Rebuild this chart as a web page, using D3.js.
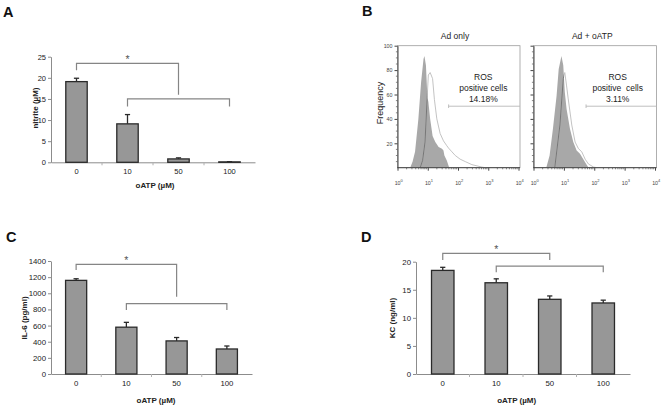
<!DOCTYPE html>
<html><head><meta charset="utf-8">
<script src="https://cdn.jsdelivr.net/npm/d3@7"></script>
<style>body{margin:0;background:#fff}svg{display:block}</style>
</head><body><svg id="c" width="661" height="408"></svg>
<script>
// ---------- DATA ----------
const categories = ["0", "10", "50", "100"];
const nitriteMean = [19.1, 9.1, 0.8, 0.1];
const nitriteErr  = [0.8, 2.2, 0.25, 0.05];
const il6Mean = [1160, 580, 410, 310];
const il6Err  = [20, 60, 42, 37];
const kcMean = [18.45, 16.25, 13.3, 12.65];
const kcErr  = [0.55, 0.7, 0.6, 0.5];
const nitriteTicks = [0, 5, 10, 15, 20, 25];
const il6Ticks = [0, 200, 400, 600, 800, 1000, 1200, 1400];
const kcTicks = [0, 5, 10, 15, 20];
const freqTicks = [20, 40, 60, 80, 100];
const decadeTicks = [0, 1, 2, 3, 4];
// flow histograms: log10(fluorescence) and frequency
const adOnlyFilledLog  = [0.42, 0.50, 0.58, 0.69, 0.78, 0.86, 0.89, 0.94, 0.99, 1.02, 1.08, 1.16, 1.25, 1.36, 1.47, 1.52, 1.55, 1.63, 1.71];
const adOnlyFilledFreq = [0, 5, 13, 40, 70, 89, 91.5, 84, 57, 54, 40, 26, 21, 17, 15.6, 14, 10, 6, 0];
const adOnlyOpenLog  = [0.75, 0.83, 0.91, 0.99, 1.02, 1.08, 1.16, 1.22, 1.30, 1.41, 1.52, 1.63, 1.69, 1.80, 1.91, 2.07, 2.24, 2.46, 2.79, 2.9];
const adOnlyOpenFreq = [0, 6, 21, 62, 76, 78, 73, 56, 40, 28, 22, 18, 16, 13, 10, 7, 5, 2.5, 0.5, 0];
const oatpFilledLog  = [0.42, 0.53, 0.64, 0.76, 0.83, 0.92, 0.98, 1.03, 1.09, 1.20, 1.31, 1.42, 1.53, 1.64, 1.76, 1.81];
const oatpFilledFreq = [0, 10, 32, 59, 81, 91.5, 84, 62, 48, 32, 21, 14, 11.5, 7, 2, 0];
const oatpOpenLog  = [0.70, 0.87, 0.98, 1.03, 1.09, 1.14, 1.26, 1.37, 1.48, 1.59, 1.70, 1.81, 1.98, 2.09];
const oatpOpenFreq = [0, 35, 73, 78, 67, 57, 35, 21, 15.6, 13, 7, 3, 0.5, 0];
const histTitles = ["Ad only", "Ad + oATP"];
const rosLines = [["ROS", "positive cells", "14.18%"], ["ROS", "positive  cells", "3.11%"]];

// ---------- DRAW ----------
const FONT = "'Liberation Sans', Arial, Helvetica, sans-serif";
const svg = d3.select("#c").attr("font-family", FONT);
const zip = (a, b) => a.map((v, i) => [v, b[i]]);

function letter(t, x, y) {
  svg.append("text").attr("x", x).attr("y", y).attr("font-size", 14.5)
    .attr("font-weight", "bold").attr("fill", "#111").text(t);
}

function barPanel(p, means, errs, ticks) {
  const g = svg.append("g");
  const x = d3.scaleBand().domain(categories).range([p.x0, p.x1])
    .paddingInner(0.58).paddingOuter(0.29);
  const y = d3.scaleLinear().domain([0, p.max]).range([p.yb, p.yt]);
  const cx = c => x(c) + x.bandwidth() / 2;

  const ya = g.append("g").attr("transform", `translate(${p.x0},0)`)
    .call(d3.axisLeft(y).tickValues(ticks).tickSize(3).tickSizeOuter(0).tickPadding(2).tickFormat(d3.format("d")));
  ya.attr("font-family", FONT).attr("font-size", p.fs);
  ya.select(".domain").attr("stroke", "#8c8c8c");
  ya.selectAll(".tick line").attr("stroke", "#8c8c8c");
  ya.selectAll(".tick text").attr("fill", "#222");

  const xa = g.append("g").attr("transform", `translate(0,${p.yb})`)
    .call(d3.axisBottom(x).tickSize(0).tickSizeOuter(0));
  xa.attr("font-family", FONT).attr("font-size", p.fs);
  xa.select(".domain").attr("stroke", "#8c8c8c");
  xa.selectAll(".tick text").attr("fill", "#222").attr("dy", null).attr("y", p.labelBase - p.yb);
  const step = x.step();
  g.selectAll("line.bt").data([1, 2, 3]).join("line")
    .attr("x1", i => p.x0 + i * step).attr("x2", i => p.x0 + i * step)
    .attr("y1", p.yb).attr("y2", p.yb + 3).attr("stroke", "#b0b0b0");

  const data = categories.map((c, i) => ({c, v: means[i], e: errs[i]}));
  g.selectAll("line.eb").data(data).join("line")
    .attr("x1", d => cx(d.c)).attr("x2", d => cx(d.c))
    .attr("y1", d => y(d.v)).attr("y2", d => y(d.v + d.e))
    .attr("stroke", "#2a2a2a").attr("stroke-width", 1.3);
  g.selectAll("line.cap").data(data).join("line")
    .attr("x1", d => cx(d.c) - 2.6).attr("x2", d => cx(d.c) + 2.6)
    .attr("y1", d => y(d.v + d.e)).attr("y2", d => y(d.v + d.e))
    .attr("stroke", "#2a2a2a").attr("stroke-width", 1.3);
  g.selectAll("rect").data(data).join("rect")
    .attr("x", d => x(d.c)).attr("width", x.bandwidth())
    .attr("y", d => y(d.v)).attr("height", d => p.yb - y(d.v))
    .attr("fill", "#979797").attr("stroke", "#2a2a2a").attr("stroke-width", 1.3);

  // significance brackets
  const b = p.br;
  const xa0 = cx(categories[0]), xa2 = cx(categories[2]);
  const xb1 = cx(categories[1]), xb3 = cx(categories[3]);
  g.append("path").attr("fill", "none").attr("stroke", "#858585").attr("stroke-width", 1.2)
    .attr("d", `M${xa0},${y(b.l1)}V${y(b.b1)}H${xa2}V${y(b.r1)}`);
  g.append("path").attr("fill", "none").attr("stroke", "#858585").attr("stroke-width", 1.2)
    .attr("d", `M${xb1},${y(b.l2)}V${y(b.b2)}H${xb3}V${y(b.l2)}`);
  g.append("text").attr("x", (xa0 + xa2) / 2).attr("y", y(b.b1) - 0.3)
    .attr("text-anchor", "middle").attr("font-size", 10.5).attr("fill", "#555").text("*");

  g.append("text").attr("x", p.xTitleX).attr("y", p.xTitleBase).attr("text-anchor", "middle")
    .attr("font-size", 8).attr("font-weight", "bold").attr("fill", "#222").text("oATP (\u00b5M)");
  g.append("text").attr("transform", `translate(${p.yTitleX},${p.yTitleY}) rotate(-90)`)
    .attr("text-anchor", "middle").attr("font-size", 8).attr("font-weight", "bold")
    .attr("fill", "#222").text(p.yTitle);
}

function histPanel(p, fLog, fFreq, oLog, oFreq, idx) {
  const g = svg.append("g");
  const x = d3.scaleLog().domain([1, 1e4]).range([p.x0, p.xr]);
  const y = d3.scaleLinear().domain([0, 100]).range([167.7, 45.7]);
  const X = d => x(Math.pow(10, d[0]));

  g.append("rect").attr("x", p.x0).attr("y", y(100)).attr("width", p.x1 - p.x0)
    .attr("height", y(0) - y(100)).attr("fill", "none").attr("stroke", "#9c9c9c").attr("stroke-width", 0.8);

  const filled = zip(fLog, fFreq), open = zip(oLog, oFreq);
  const area = d3.area().x(X).y0(y(0)).y1(d => y(d[1]));
  const line = d3.line().x(X).y(d => y(d[1]));
  const cid = "clip" + idx;
  g.append("clipPath").attr("id", cid).append("path").attr("d", area(filled));
  g.append("path").attr("d", area(filled)).attr("fill", "#a8a8a8");
  g.append("path").attr("d", line(open)).attr("fill", "none").attr("stroke", "#bcbcbc").attr("stroke-width", 0.9);
  g.append("path").attr("d", line(open)).attr("fill", "none").attr("stroke", "#6e6e6e")
    .attr("stroke-width", 0.9).attr("clip-path", `url(#${cid})`);

  // y axis
  const ya = g.append("g").attr("transform", `translate(${p.x0},0)`)
    .call(d3.axisLeft(y).tickValues(freqTicks).tickSize(3).tickSizeOuter(0).tickPadding(2)
      .tickFormat(p.labels ? d3.format("d") : ""));
  ya.attr("font-family", FONT).attr("font-size", 5.3);
  ya.select(".domain").attr("stroke", "#444");
  ya.selectAll(".tick line").attr("stroke", "#444");
  ya.selectAll(".tick text").attr("fill", "#444");
  const minorY = d3.range(5, 100, 5).filter(v => v % 20 !== 0);
  g.selectAll("line.my").data(minorY).join("line")
    .attr("x1", p.x0 - 1.6).attr("x2", p.x0).attr("y1", d => y(d)).attr("y2", d => y(d)).attr("stroke", "#555").attr("stroke-width", 0.7);

  // x axis
  const xa = g.append("g").attr("transform", `translate(0,${y(0)})`)
    .call(d3.axisBottom(x).tickValues(decadeTicks.map(d => Math.pow(10, d))).tickSize(3).tickSizeOuter(0).tickFormat(""));
  xa.select(".domain").attr("stroke", "#444").attr("d", `M${p.x0},0H${p.x1}`);
  xa.selectAll(".tick line").attr("stroke", "#444");
  const minorX = [];
  decadeTicks.slice(0, 4).forEach(d => { for (let k = 2; k <= 9; k++) minorX.push(k * Math.pow(10, d)); });
  g.selectAll("line.mx").data(minorX).join("line")
    .attr("x1", d => x(d)).attr("x2", d => x(d)).attr("y1", y(0)).attr("y2", y(0) + 1.6)
    .attr("stroke", "#555").attr("stroke-width", 0.7);
  const lab = g.selectAll("text.xl").data(decadeTicks).join("text")
    .attr("x", d => x(Math.pow(10, d)) + 1.2).attr("y", 185).attr("text-anchor", "middle")
    .attr("font-size", 5.3).attr("fill", "#444");
  lab.append("tspan").text("10");
  lab.append("tspan").attr("dy", -2.6).attr("font-size", 4).text(d => d);

  // gate
  const gy = y(50.4), gx = x(Math.pow(10, p.gate));
  g.append("path").attr("fill", "none").attr("stroke", "#b8b8b8").attr("stroke-width", 0.9)
    .attr("d", `M${gx},${gy - 1.8}V${gy + 1.8}M${gx},${gy}H${p.x1}`);

  // annotations
  g.selectAll("text.ann").data(rosLines[idx]).join("text")
    .attr("x", p.annX).attr("y", (d, i) => 80.3 + i * 10.9).attr("text-anchor", "middle")
    .attr("font-size", 8.5).attr("fill", "#222").style("white-space", "pre").text(d => d);
  g.append("text").attr("x", p.titleX).attr("y", 38.7).attr("text-anchor", "middle")
    .attr("font-size", 8.5).attr("fill", "#222").text(histTitles[idx]);
}

// Panel A
letter("A", 3, 16.5);
barPanel({x0: 51, x1: 255, yb: 162.3, yt: 56.7, max: 25, fs: 7.5, labelBase: 174.4,
  xTitleX: 155, xTitleBase: 188, yTitleX: 37.8, yTitleY: 108, yTitle: "nitrite (\u00b5M)",
  br: {b1: 23.4, l1: 21.8, r1: 16.0, b2: 15.0, l2: 13.2}}, nitriteMean, nitriteErr, nitriteTicks);

// Panel C
letter("C", 6, 242);
barPanel({x0: 51, x1: 252, yb: 374, yt: 261, max: 1400, fs: 7.8, labelBase: 386.2,
  xTitleX: 156, xTitleBase: 403, yTitleX: 26.6, yTitleY: 318, yTitle: "IL-6 (pg/ml)",
  br: {b1: 1359, l1: 1289, r1: 958, b2: 871, l2: 793}}, il6Mean, il6Err, il6Ticks);

// Panel D
letter("D", 361, 242);
barPanel({x0: 416, x1: 630, yb: 374, yt: 261.7, max: 20, fs: 7.8, labelBase: 385.6,
  xTitleX: 516.7, xTitleBase: 403, yTitleX: 395, yTitleY: 318, yTitle: "KC (ng/ml)",
  br: {b1: 21.5, l1: 20.3, r1: 20.3, b2: 19.2, l2: 18.1}}, kcMean, kcErr, kcTicks);

// Panel B
letter("B", 362, 15.5);
histPanel({x0: 397.5, xr: 518.5, x1: 520, labels: true, gate: 1.69, annX: 483.3, titleX: 455},
  adOnlyFilledLog, adOnlyFilledFreq, adOnlyOpenLog, adOnlyOpenFreq, 0);
histPanel({x0: 533.5, xr: 655, x1: 656.5, labels: false, gate: 1.73, annX: 617.7, titleX: 592.3},
  oatpFilledLog, oatpFilledFreq, oatpOpenLog, oatpOpenFreq, 1);
svg.append("text").attr("transform", "translate(382.5,103) rotate(-90)").attr("text-anchor", "middle")
  .attr("font-size", 9).attr("fill", "#222").text("Frequency");
</script></body></html>
